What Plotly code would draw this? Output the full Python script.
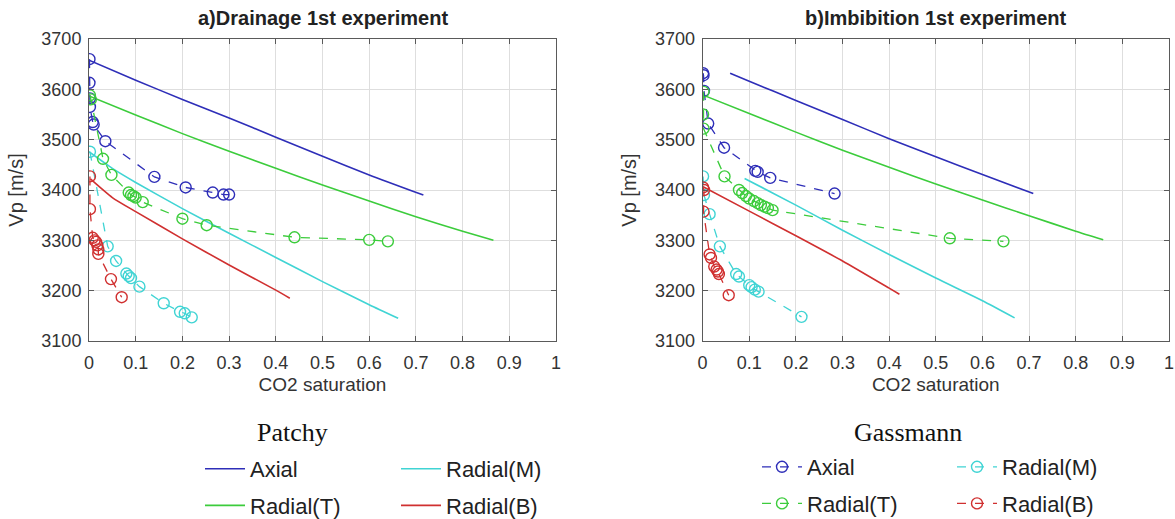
import plotly.graph_objects as go

# ---------------- data ----------------
# a) Drainage - Patchy model (solid lines)
dr_pat_axial_x = [0.0, 0.1, 0.2, 0.3, 0.4, 0.5, 0.6, 0.716]
dr_pat_axial_y = [3658, 3618, 3580, 3543, 3505, 3467, 3430, 3390]
dr_pat_top_x = [0.0, 0.1, 0.2, 0.3, 0.4, 0.5, 0.6, 0.7, 0.8, 0.866]
dr_pat_top_y = [3587, 3549, 3512, 3477, 3443, 3410, 3378, 3347, 3318, 3300]
dr_pat_mid_x = [0.0, 0.05, 0.1, 0.2, 0.3, 0.4, 0.5, 0.6, 0.662]
dr_pat_mid_y = [3476, 3443, 3415, 3363, 3314, 3266, 3218, 3172, 3145]
dr_pat_bot_x = [0.003, 0.05, 0.1, 0.2, 0.3, 0.4, 0.43]
dr_pat_bot_y = [3422, 3385, 3357, 3303, 3251, 3201, 3185]

# a) Drainage - Gassmann / measured (dashed + circles)
dr_gas_axial_x = [0.001, 0.001, 0.002, 0.002, 0.008, 0.01, 0.035, 0.14, 0.207, 0.265, 0.288, 0.3]
dr_gas_axial_y = [3660, 3613, 3582, 3565, 3535, 3530, 3497, 3426, 3405, 3395, 3391, 3391]
dr_gas_top_x = [0.002, 0.004, 0.03, 0.048, 0.085, 0.09, 0.095, 0.1, 0.115, 0.2, 0.252, 0.44, 0.6, 0.64]
dr_gas_top_y = [3588, 3580, 3462, 3430, 3395, 3390, 3388, 3385, 3376, 3343, 3330, 3306, 3301, 3298]
dr_gas_mid_x = [0.002, 0.04, 0.058, 0.08, 0.085, 0.09, 0.108, 0.16, 0.195, 0.205, 0.22]
dr_gas_mid_y = [3476, 3288, 3259, 3234, 3229, 3225, 3208, 3175, 3158, 3155, 3147]
dr_gas_bot_x = [0.002, 0.002, 0.008, 0.012, 0.015, 0.018, 0.02, 0.02, 0.047, 0.07]
dr_gas_bot_y = [3427, 3362, 3305, 3300, 3297, 3290, 3282, 3273, 3223, 3187]

# b) Imbibition - Patchy model (solid lines)
im_pat_axial_x = [0.059, 0.1, 0.2, 0.3, 0.4, 0.5, 0.6, 0.709]
im_pat_axial_y = [3632, 3616, 3578, 3540, 3502, 3466, 3431, 3393]
im_pat_top_x = [0.0, 0.1, 0.2, 0.3, 0.4, 0.5, 0.6, 0.7, 0.8, 0.859]
im_pat_top_y = [3589, 3552, 3515, 3479, 3445, 3412, 3380, 3349, 3318, 3301]
im_pat_mid_x = [0.09, 0.2, 0.3, 0.4, 0.5, 0.6, 0.669]
im_pat_mid_y = [3423, 3370, 3320, 3272, 3225, 3180, 3146]
im_pat_bot_x = [0.0, 0.1, 0.2, 0.3, 0.4, 0.422]
im_pat_bot_y = [3407, 3358, 3309, 3259, 3205, 3193]

# b) Imbibition - Gassmann / measured (dashed + circles)
im_gas_axial_x = [0.001, 0.002, 0.003, 0.012, 0.046, 0.113, 0.118, 0.145, 0.283]
im_gas_axial_y = [3632, 3628, 3597, 3532, 3484, 3438, 3436, 3424, 3393]
im_gas_top_x = [0.002, 0.001, 0.002, 0.047, 0.078, 0.085, 0.093, 0.1, 0.11, 0.118, 0.125, 0.133, 0.14, 0.15, 0.53, 0.645]
im_gas_top_y = [3595, 3550, 3522, 3427, 3400, 3394, 3388, 3383, 3378, 3374, 3370, 3367, 3364, 3360, 3304, 3298]
im_gas_mid_x = [0.001, 0.003, 0.015, 0.037, 0.072, 0.078, 0.1, 0.105, 0.112, 0.12, 0.212]
im_gas_mid_y = [3427, 3390, 3352, 3288, 3233, 3228, 3211, 3207, 3202, 3198, 3148]
im_gas_bot_x = [0.001, 0.003, 0.002, 0.015, 0.018, 0.025, 0.03, 0.033, 0.035, 0.056]
im_gas_bot_y = [3405, 3400, 3357, 3272, 3265, 3248, 3242, 3238, 3233, 3191]

names = ["Axial", "Radial(T)", "Radial(M)", "Radial(B)"]
colors = ["#2e2eb8", "#3ccc3c", "#40d4d4", "#d03030"]

panel_titles = ["a)Drainage 1st experiment", "b)Imbibition 1st experiment"]
x_title = "CO2 saturation"
y_title = "Vp [m/s]"
x_ticks = [0, 0.1, 0.2, 0.3, 0.4, 0.5, 0.6, 0.7, 0.8, 0.9, 1]
y_ticks = [3100, 3200, 3300, 3400, 3500, 3600, 3700]

# ---------------- figure ----------------
W, H = 1175, 519
fig = go.Figure()

patchy = [
    [(dr_pat_axial_x, dr_pat_axial_y), (dr_pat_top_x, dr_pat_top_y), (dr_pat_mid_x, dr_pat_mid_y), (dr_pat_bot_x, dr_pat_bot_y)],
    [(im_pat_axial_x, im_pat_axial_y), (im_pat_top_x, im_pat_top_y), (im_pat_mid_x, im_pat_mid_y), (im_pat_bot_x, im_pat_bot_y)],
]
gass = [
    [(dr_gas_axial_x, dr_gas_axial_y), (dr_gas_top_x, dr_gas_top_y), (dr_gas_mid_x, dr_gas_mid_y), (dr_gas_bot_x, dr_gas_bot_y)],
    [(im_gas_axial_x, im_gas_axial_y), (im_gas_top_x, im_gas_top_y), (im_gas_mid_x, im_gas_mid_y), (im_gas_bot_x, im_gas_bot_y)],
]

# legend assignment: column 1 = Axial, Radial(T); column 2 = Radial(M), Radial(B)
pat_leg = ["legend", "legend", "legend2", "legend2"]
gas_leg = ["legend3", "legend3", "legend4", "legend4"]

for p in range(2):
    xa = "x" if p == 0 else "x2"
    ya = "y" if p == 0 else "y2"
    for i in range(4):
        x, y = patchy[p][i]
        fig.add_trace(go.Scatter(
            x=x, y=y, mode="lines", name=names[i],
            line=dict(color=colors[i], width=1.6, shape="spline", smoothing=0.6),
            xaxis=xa, yaxis=ya,
            legend=pat_leg[i], showlegend=(p == 0),
            legendgroup="pat" + str(i),
        ))
    for i in range(4):
        x, y = gass[p][i]
        fig.add_trace(go.Scatter(
            x=x, y=y, mode="lines+markers", name=names[i],
            line=dict(color=colors[i], width=1.3, dash="dash"),
            marker=dict(symbol="circle-open", size=11, color=colors[i], line=dict(width=1.4, color=colors[i])),
            xaxis=xa, yaxis=ya,
            legend=gas_leg[i], showlegend=(p == 1),
            legendgroup="gas" + str(i),
        ))

FONT = "Liberation Sans, Arial"
TXT = "#333333"
axis_common = dict(
    showline=True, linecolor="#5a5a5a", linewidth=1, mirror="ticks",
    ticks="inside", ticklen=5, tickcolor="#5a5a5a",
    showgrid=True, gridcolor="#dedede", gridwidth=1,
    zeroline=False,
    tickfont=dict(family=FONT, size=18, color=TXT),
)
xt = dict(text=x_title, standoff=6, font=dict(family=FONT, size=19, color=TXT))
yt = dict(text=y_title, standoff=12, font=dict(family=FONT, size=20, color=TXT))

ydom = [1 - 341 / H, 1 - 39 / H]
fig.update_layout(
    width=W, height=H,
    margin=dict(l=0, r=0, t=0, b=0, autoexpand=False),
    paper_bgcolor="white", plot_bgcolor="white",
    showlegend=True,
    xaxis=dict(domain=[89 / W, 556 / W], range=[0, 1], tickvals=x_ticks, anchor="y",
               ticklabelstandoff=5, title=xt, **axis_common),
    yaxis=dict(domain=ydom, range=[3100, 3700], tickvals=y_ticks, anchor="x",
               ticklabelstandoff=3, title=yt, **axis_common),
    xaxis2=dict(domain=[702.6 / W, 1169 / W], range=[0, 1], tickvals=x_ticks, anchor="y2",
                ticklabelstandoff=5, title=xt, **axis_common),
    yaxis2=dict(domain=ydom, range=[3100, 3700], tickvals=y_ticks, anchor="x2",
                ticklabelstandoff=3, title=yt, **axis_common),
)

leg_font = dict(family=FONT, size=22, color="#222222")
leg_common = dict(orientation="v", font=leg_font, bgcolor="rgba(0,0,0,0)",
                  xref="paper", yref="paper", xanchor="left", yanchor="top",
                  traceorder="grouped", tracegroupgap=5, itemwidth=40, itemclick=False, itemdoubleclick=False)
fig.update_layout(
    legend=dict(x=200 / W, y=1 - 448 / H, **leg_common),
    legend2=dict(x=396 / W, y=1 - 448 / H, **leg_common),
    legend3=dict(x=757 / W, y=1 - 446 / H, **leg_common),
    legend4=dict(x=952 / W, y=1 - 446 / H, **leg_common),
)

# panel titles
for cx, t in zip([(89 + 556) / 2, (702.6 + 1169) / 2], panel_titles):
    fig.add_annotation(x=cx / W, y=1 - 18 / H, xref="paper", yref="paper", xanchor="center", yanchor="middle",
                       text="<b>" + t + "</b>", showarrow=False,
                       font=dict(family=FONT, size=20, color="#222222"))

# model captions
for cx, t in zip([292, 908], ["Patchy", "Gassmann"]):
    fig.add_annotation(x=cx / W, y=1 - 432 / H, xref="paper", yref="paper", xanchor="center", yanchor="middle",
                       text=t, showarrow=False,
                       font=dict(family="Liberation Serif, Times New Roman", size=26, color="#111111"))

fig.write_html("out.html")
